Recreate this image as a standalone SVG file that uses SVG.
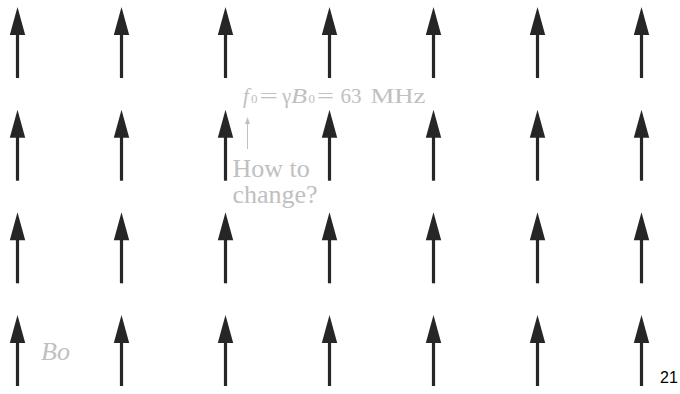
<svg xmlns="http://www.w3.org/2000/svg" width="680" height="394" viewBox="0 0 680 394">
<defs>
<style>
.shaft{stroke:#262626;stroke-width:3.2;fill:none}
.head{fill:#262626}
.g{fill:#c0c0c0;font-family:"Liberation Serif","Times New Roman",serif;font-size:26px}
.e{font-size:21px}
.i{font-style:italic}
.s{font-size:13px}
</style>
<g id="arrow">
<line class="shaft" x1="0" y1="26" x2="0" y2="71"/>
<polygon class="head" points="0,0 7.7,28 -7.7,28"/>
</g>
</defs>
<rect width="680" height="394" fill="#fff"/>
<g id="field">
<use href="#arrow" x="17.5" y="7"/><use href="#arrow" x="121.5" y="7"/><use href="#arrow" x="225.5" y="7"/><use href="#arrow" x="329.5" y="7"/><use href="#arrow" x="433.5" y="7"/><use href="#arrow" x="537.5" y="7"/><use href="#arrow" x="641.5" y="7"/>
<use href="#arrow" x="17.5" y="109.7"/><use href="#arrow" x="121.5" y="109.7"/><use href="#arrow" x="225.5" y="109.7"/><use href="#arrow" x="329.5" y="109.7"/><use href="#arrow" x="433.5" y="109.7"/><use href="#arrow" x="537.5" y="109.7"/><use href="#arrow" x="641.5" y="109.7"/>
<use href="#arrow" x="17.5" y="212.3"/><use href="#arrow" x="121.5" y="212.3"/><use href="#arrow" x="225.5" y="212.3"/><use href="#arrow" x="329.5" y="212.3"/><use href="#arrow" x="433.5" y="212.3"/><use href="#arrow" x="537.5" y="212.3"/><use href="#arrow" x="641.5" y="212.3"/>
<use href="#arrow" x="17.5" y="315"/><use href="#arrow" x="121.5" y="315"/><use href="#arrow" x="225.5" y="315"/><use href="#arrow" x="329.5" y="315"/><use href="#arrow" x="433.5" y="315"/><use href="#arrow" x="537.5" y="315"/><use href="#arrow" x="641.5" y="315"/>
</g>
<g id="equation">
<text class="g e i" x="243" y="103">f</text>
<text class="g s" x="251" y="103">0</text>
<text class="g e" x="259.5" y="103" textLength="18.5" lengthAdjust="spacingAndGlyphs">=</text>
<text class="g e" x="282" y="103">γ</text>
<text class="g e i" transform="translate(291,103) scale(1.25,1)">B</text>
<text class="g s" x="308.5" y="103">0</text>
<text class="g e" x="317" y="103" textLength="17" lengthAdjust="spacingAndGlyphs">=</text>
<text class="g e" x="340.5" y="103">63</text>
<text class="g e" x="370.5" y="103" textLength="55" lengthAdjust="spacingAndGlyphs">MHz</text>
</g>
<g id="pointer">
<line x1="247.5" y1="123" x2="247.5" y2="149" stroke="#c0c0c0" stroke-width="1"/>
<polygon points="247.5,117 250,124 245,124" fill="#c0c0c0"/>
</g>
<g id="question">
<text class="g" x="232.5" y="176.5">How to</text>
<text class="g" x="232.5" y="203">change?</text>
</g>
<text class="g i" x="41" y="360">Bo</text>
<text x="660" y="383" font-family="Liberation Sans, Arial, sans-serif" font-size="16" fill="#000">21</text>
</svg>
